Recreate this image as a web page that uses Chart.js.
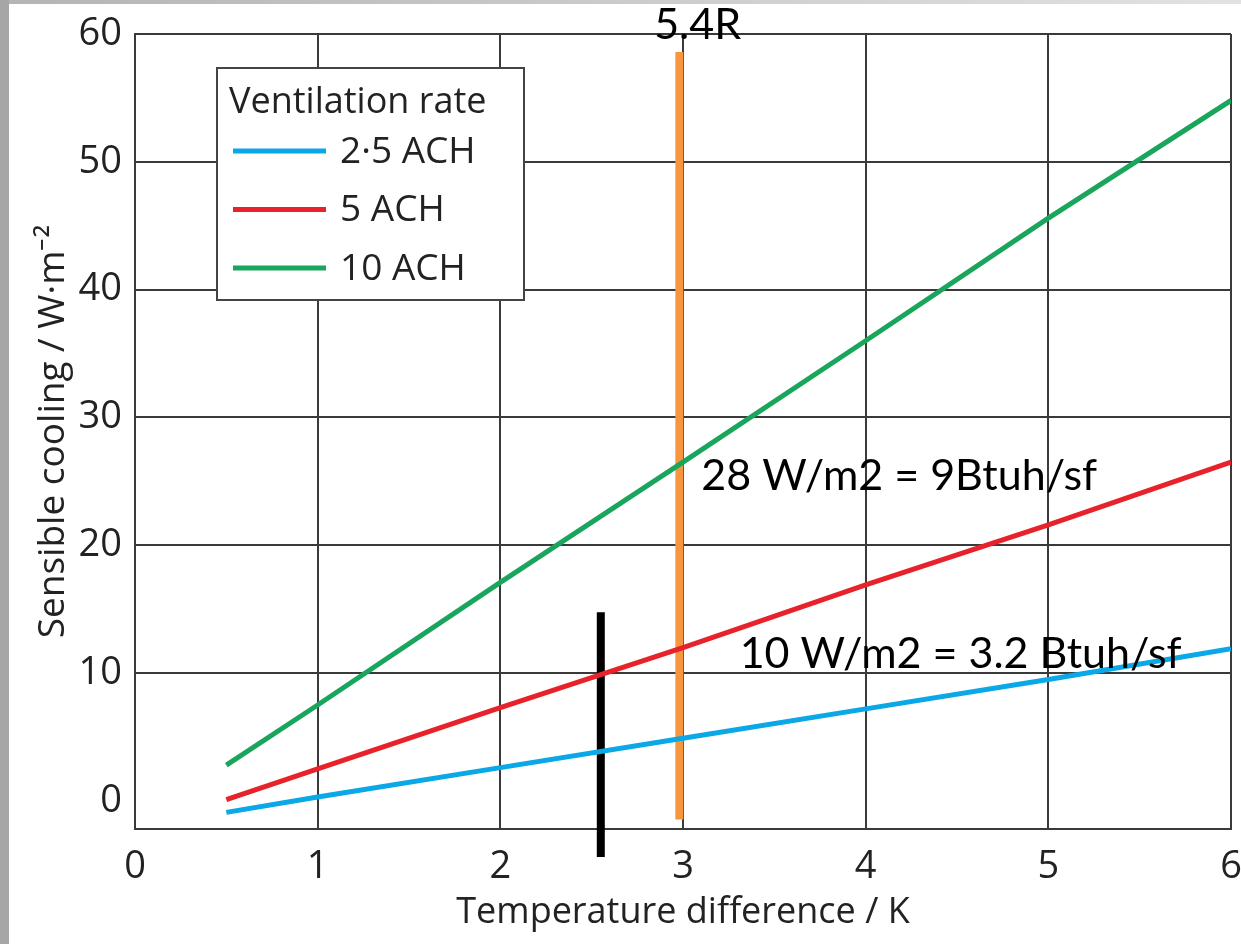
<!DOCTYPE html>
<html>
<head>
<meta charset="utf-8">
<script src="https://cdn.jsdelivr.net/npm/chart.js@4.4.1/dist/chart.umd.min.js"></script>
<style>
  html, body { margin: 0; padding: 0; background: #fff; }
  #wrap { width: 1241px; height: 944px; }
</style>
</head>
<body>
<div id="wrap"><canvas id="myChart" width="1241" height="944"></canvas></div>
<script>
// values
const tempDiff = [0.5, 1, 2, 3, 4, 5, 6]
const ach25 = [-0.9, 0.3, 2.6, 4.9, 7.2, 9.5, 11.9]
const ach5 = [0.1, 2.5, 7.3, 12.0, 16.9, 21.6, 26.5]
const ach10 = [2.8, 7.5, 17.1, 26.5, 36.0, 45.6, 54.8]
const seriesNames = ["2·5 ACH", "5 ACH", "10 ACH"]
const xTicks = [0, 1, 2, 3, 4, 5, 6]
const yTicks = [0, 10, 20, 30, 40, 50, 60]

// hand drawn marks on top of the chart
const orangeMarkX = [2.98, 2.98]
const orangeMarkY = [58.6, -1.45]
const blackMarkX = [2.55, 2.55]
const blackMarkY = [14.75, -4.4]
const noteText = ["5.4R", "28 W/m2 = 9Btuh/sf", "10 W/m2 = 3.2 Btuh/sf"]
const noteX = [3.08, 3.10, 3.31]
const noteY = [60.7, 25.4, 11.5]
const noteAlign = ["center", "left", "left"]

const gridColor = '#3a3a3a'
const textColor = '#222'
const colors = ['#0aa8e6', '#e8222b', '#1aa55c']

function pts(xs, ys) {
    return xs.map((x, i) => ({ x: x, y: ys[i] }))
}

const frame = {
    id: 'frame',
    beforeDraw(chart) {
        const c = chart.ctx
        c.save()
        c.fillStyle = '#fff'
        c.fillRect(0, 0, chart.width, chart.height)
        const g = c.createLinearGradient(0, 0, chart.width, 0)
        g.addColorStop(0, '#b4b4b4')
        g.addColorStop(1, '#e2e2e2')
        c.fillStyle = g
        c.fillRect(0, 0, chart.width, 4)
        c.fillStyle = '#a6a6a6'
        c.fillRect(0, 0, 9, chart.height)
        c.restore()
    }
}

const boxLegend = {
    id: 'boxLegend',
    afterDatasetsDraw(chart) {
        const c = chart.ctx
        const a = chart.chartArea
        const x = a.left + 82, y = a.top + 34, w = 307, h = 232
        c.save()
        c.fillStyle = '#fff'
        c.fillRect(x, y, w, h)
        c.strokeStyle = '#444'
        c.lineWidth = 2
        c.strokeRect(x, y, w, h)
        c.fillStyle = textColor
        c.font = '500 36px "Open Sans"'
        c.textBaseline = 'middle'
        c.fillText('Ventilation rate', x + 12, y + 35)
        c.font = '500 37px "Open Sans"'
        for (let i = 0; i < 3; i++) {
            const ds = chart.data.datasets[i]
            const ly = y + 83 + i * 58.5
            c.strokeStyle = ds.borderColor
            c.lineWidth = 5
            c.beginPath()
            c.moveTo(x + 16, ly)
            c.lineTo(x + 109, ly)
            c.stroke()
            c.fillText(ds.label, x + 123, ly + 1)
        }
        c.restore()
    }
}

const notes = {
    id: 'notes',
    afterDatasetsDraw(chart) {
        const c = chart.ctx
        const xs = chart.scales.x, ys = chart.scales.y
        c.save()
        c.fillStyle = '#000'
        c.font = '43px Lato'
        c.textBaseline = 'middle'
        noteText.forEach((t, i) => {
            c.textAlign = noteAlign[i]
            c.fillText(t, xs.getPixelForValue(noteX[i]), ys.getPixelForValue(noteY[i]))
        })
        c.restore()
    }
}

const ctx = document.getElementById('myChart').getContext('2d')
const chart = new Chart(ctx, {
    type: 'line',
    data: {
        datasets: [
            { label: seriesNames[0], data: pts(tempDiff, ach25), borderColor: colors[0] },
            { label: seriesNames[1], data: pts(tempDiff, ach5), borderColor: colors[1] },
            { label: seriesNames[2], data: pts(tempDiff, ach10), borderColor: colors[2] },
            { label: 'mark1', data: pts(orangeMarkX, orangeMarkY), borderColor: '#f7963f', borderWidth: 8, clip: false },
            { label: 'mark2', data: pts(blackMarkX, blackMarkY), borderColor: '#000', borderWidth: 8, clip: false }
        ]
    },
    options: {
        responsive: false,
        animation: false,
        elements: {
            line: { borderWidth: 5, tension: 0, fill: false },
            point: { radius: 0 }
        },
        layout: { padding: { top: 34, right: 10, left: 0, bottom: 0 }, autoPadding: false },
        plugins: {
            legend: { display: false },
            tooltip: { enabled: false }
        },
        scales: {
            x: {
                type: 'linear',
                min: 0,
                max: 6,
                afterBuildTicks: s => { s.ticks = xTicks.map(v => ({ value: v })) },
                afterFit: s => { s.height = 115; s.paddingLeft = 0; s.paddingRight = 0 },
                grid: { color: gridColor, lineWidth: 2, drawTicks: false },
                border: { color: gridColor, width: 2 },
                ticks: { color: textColor, font: { family: 'Open Sans', size: 38, weight: 500 }, padding: 15, maxRotation: 0 },
                title: {
                    display: true,
                    text: 'Temperature difference / K',
                    color: textColor,
                    font: { family: 'Open Sans', size: 36, weight: 500 },
                    padding: { top: 0, bottom: 10 }
                }
            },
            y: {
                type: 'linear',
                min: -2.2,
                max: 60,
                afterBuildTicks: s => { s.ticks = yTicks.map(v => ({ value: v })) },
                afterFit: s => { s.width = 135; s.paddingTop = 0; s.paddingBottom = 0 },
                grid: {
                    color: c => (c.tick && c.tick.value === 0) ? 'rgba(0,0,0,0)' : gridColor,
                    lineWidth: 2,
                    drawTicks: false
                },
                border: { color: gridColor, width: 2 },
                ticks: { color: textColor, font: { family: 'Open Sans', size: 38, weight: 500 }, padding: 13 },
                title: {
                    display: true,
                    text: 'Sensible cooling / W·m⁻²',
                    color: textColor,
                    font: { family: 'Open Sans', size: 37, weight: 500 },
                    padding: { top: 31, bottom: 0 }
                }
            }
        }
    },
    plugins: [frame, boxLegend, notes]
})
</script>
</body>
</html>
